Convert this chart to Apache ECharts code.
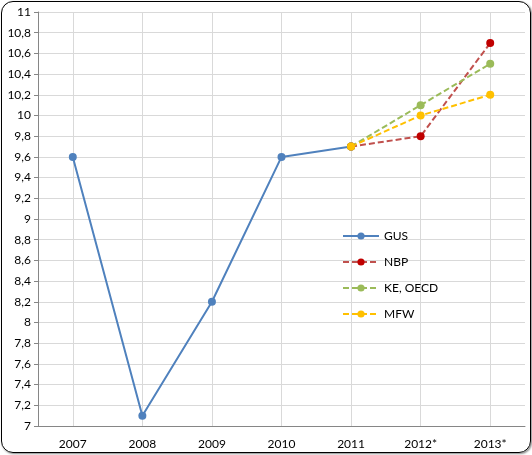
<!DOCTYPE html>
<html>
<head>
<meta charset="utf-8">
<script src="https://cdn.jsdelivr.net/npm/echarts@6/dist/echarts.min.js"></script>
<style>
  html, body { margin: 0; padding: 0; background: #fff; }
  #frame { position: absolute; left: 1px; top: 1px; width: 528px; height: 450px;
           border: 1px solid #000; border-radius: 12px; box-shadow: 1px 1px 2px #888; }
  #main { position: absolute; left: 0; top: 0; width: 532px; height: 455px; }
</style>
</head>
<body>
<div id="frame"></div>
<div id="main"></div>
<script type="text/javascript">
    var years = ["2007", "2008", "2009", "2010", "2011", "2012*", "2013*"];
    var gus = [9.6, 7.1, 8.2, 9.6, 9.7, null, null];
    var nbp = [null, null, null, null, 9.7, 9.8, 10.7];
    var keOecd = [null, null, null, null, 9.7, 10.1, 10.5];
    var mfw = [null, null, null, null, 9.7, 10.0, 10.2];

    var ec = echarts.init(document.getElementById('main'));

    function mkSeries(name, data, lineColor, dotColor, dashed) {
        return {
            name: name,
            type: 'line',
            data: data,
            symbol: 'circle',
            symbolSize: 8,
            connectNulls: false,
            lineStyle: { color: lineColor, width: 2, type: dashed ? [6, 3] : 'solid' },
            itemStyle: { color: dotColor },
            emphasis: { disabled: true }
        };
    }

    var option = {
        animation: false,
        textStyle: { fontFamily: 'Lato, "Open Sans", sans-serif' },
        grid: { left: 38, right: 7, top: 12, bottom: 29 },
        legend: {
            orient: 'vertical',
            left: 337,
            top: 225,
            itemWidth: 36,
            itemHeight: 9,
            itemGap: 14,
            textStyle: { fontSize: 12, color: '#000' },
            data: ["GUS", "NBP", "KE, OECD", "MFW"]
        },
        xAxis: {
            type: 'category',
            data: years,
            axisLine: { lineStyle: { color: '#868686' } },
            axisTick: { show: false },
            axisLabel: { color: '#000', fontSize: 12, margin: 12 },
            splitLine: { show: true, alignWithLabel: true, lineStyle: { color: '#D9D9D9' } }
        },
        yAxis: {
            type: 'value',
            min: 7,
            max: 11,
            interval: 0.2,
            axisLine: { show: true, lineStyle: { color: '#868686' } },
            axisTick: { show: true, length: 4, lineStyle: { color: '#868686' } },
            axisLabel: {
                color: '#000', fontSize: 12, margin: 7,
                formatter: function (v) { return String(Math.round(v * 10) / 10).replace('.', ','); }
            },
            splitLine: { lineStyle: { color: '#D9D9D9' } }
        },
        series: [
            mkSeries("GUS", gus, '#4F81BD', '#4F81BD', false),
            mkSeries("NBP", nbp, '#C0504D', '#C00000', true),
            mkSeries("KE, OECD", keOecd, '#9BBB59', '#9BBB59', true),
            mkSeries("MFW", mfw, '#FFC000', '#FFC000', true)
        ]
    };

    ec.setOption(option);
</script>
</body>
</html>
